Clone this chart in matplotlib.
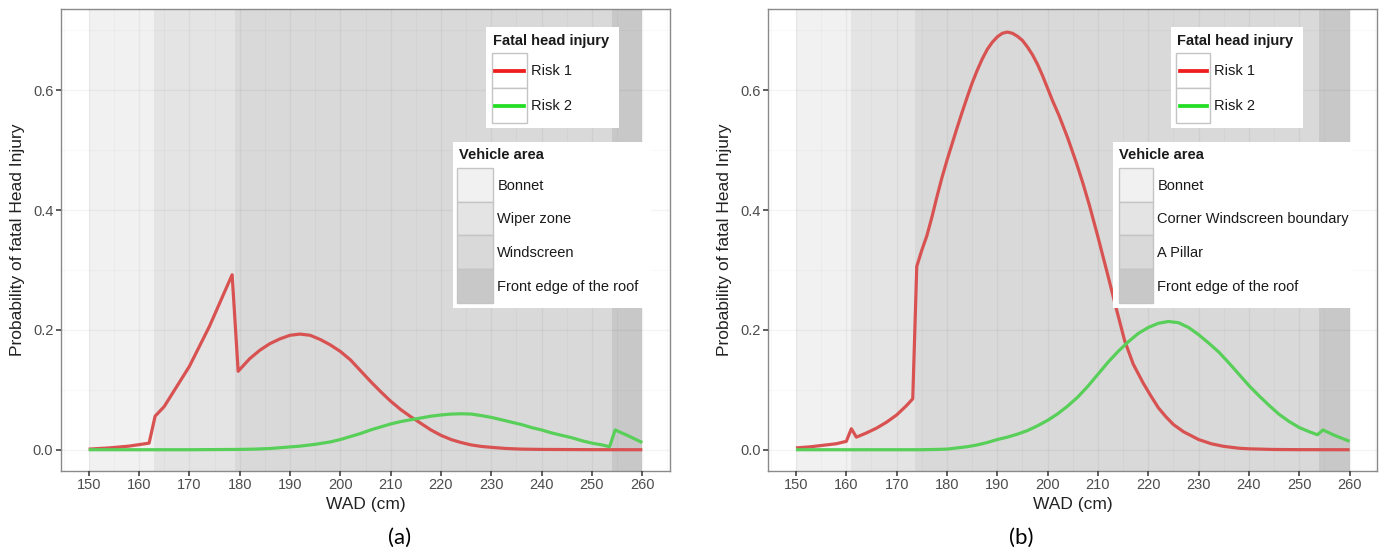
import matplotlib
matplotlib.use("Agg")
import matplotlib.pyplot as plt
from matplotlib.patches import Rectangle
from matplotlib.lines import Line2D
import numpy as np

# ---------------- data ----------------
panel_tags = ["(a)", "(b)"]

# vehicle area bands (WAD cm)
areas_a = ["Bonnet", "Wiper zone", "Windscreen", "Front edge of the roof"]
edges_a = [150, 163, 179, 254, 260]
areas_b = ["Bonnet", "Corner Windscreen boundary", "A Pillar", "Front edge of the roof"]
edges_b = [150, 161, 173.7, 254, 260]
area_colors = ["#f1f1f1", "#e4e4e4", "#d9d9d9", "#c8c8c8"]

series_names = ["Risk 1", "Risk 2"]

# panel (a)
a_r1_x = [150, 154, 158, 162, 163.2, 165, 170, 174, 178.5, 179.7, 182, 184, 186, 188,
          190, 192, 194, 196, 198, 200, 202, 204, 206, 208, 210, 212, 214, 216, 218,
          220, 222, 224, 226, 228, 230, 233, 236, 240, 250, 260]
a_r1_y = [0.001, 0.003, 0.006, 0.011, 0.056, 0.072, 0.139, 0.206, 0.292, 0.131, 0.152,
          0.166, 0.177, 0.185, 0.191, 0.193, 0.191, 0.184, 0.175, 0.164, 0.150, 0.132,
          0.114, 0.097, 0.081, 0.067, 0.055, 0.044, 0.033, 0.024, 0.017, 0.012, 0.008,
          0.0055, 0.004, 0.002, 0.001, 0.0005, 0.0001, 0.0]
a_r2_x = [150, 170, 180, 183, 186, 189, 192, 195, 198, 200, 202, 204, 206, 208, 210,
          212, 214, 216, 218, 220, 222, 224, 226, 228, 230, 232, 234, 236, 238, 240,
          242, 244, 246, 248, 250, 252, 253.5, 254.6, 257, 260]
a_r2_y = [0.0, 0.0, 0.0005, 0.001, 0.002, 0.004, 0.006, 0.009, 0.013, 0.017, 0.022,
          0.027, 0.033, 0.038, 0.043, 0.047, 0.050, 0.053, 0.056, 0.058, 0.0595, 0.060,
          0.0595, 0.057, 0.054, 0.050, 0.046, 0.042, 0.037, 0.033, 0.028, 0.024, 0.020,
          0.015, 0.011, 0.008, 0.005, 0.033, 0.024, 0.012]

# panel (b)
b_r1_x = [150, 153, 156, 158, 160, 161, 162, 164, 166, 168, 170, 172, 173.2, 174, 175,
          176, 177, 178, 179, 180, 181, 182, 183, 184, 185, 186, 187, 188, 189, 190, 191,
          192, 193, 194, 195, 196, 197, 198, 199, 200, 201, 202.3, 204, 205.7, 207,
          208.3, 210, 212, 213.5, 215.3, 217, 219, 220.5, 222, 223.5, 225, 227, 230,
          232.5, 235, 238, 240, 245, 250, 260]
b_r1_y = [0.003, 0.005, 0.008, 0.010, 0.014, 0.035, 0.021, 0.028, 0.036, 0.046, 0.058,
          0.074, 0.085, 0.306, 0.333, 0.357, 0.388, 0.422, 0.454, 0.483, 0.510, 0.537,
          0.563, 0.588, 0.612, 0.633, 0.652, 0.668, 0.680, 0.689, 0.695, 0.697, 0.695,
          0.690, 0.683, 0.672, 0.659, 0.643, 0.624, 0.603, 0.582, 0.557, 0.520, 0.479,
          0.445, 0.408, 0.355, 0.290, 0.240, 0.182, 0.143, 0.111, 0.090, 0.070, 0.055,
          0.042, 0.030, 0.017, 0.010, 0.0056, 0.0025, 0.0015, 0.0004, 0.0001, 0.0]
b_r2_x = [150, 175, 178, 180, 182, 184, 186, 188, 190, 192, 194, 196, 198, 200, 202,
          204, 206, 208, 210, 212, 214, 216, 218, 220, 222, 224, 226, 228, 230, 232,
          234, 236, 238, 240, 242, 244, 246, 248, 250, 252, 253.6, 254.7, 257, 260]
b_r2_y = [0.0, 0.0, 0.0005, 0.001, 0.003, 0.005, 0.008, 0.012, 0.017, 0.021, 0.026,
          0.032, 0.040, 0.049, 0.060, 0.073, 0.088, 0.106, 0.126, 0.146, 0.164, 0.180,
          0.194, 0.204, 0.211, 0.214, 0.212, 0.204, 0.192, 0.178, 0.163, 0.145, 0.126,
          0.107, 0.090, 0.074, 0.059, 0.047, 0.037, 0.030, 0.025, 0.033, 0.024, 0.014]

x_ticks = list(range(150, 261, 10))
y_ticks = [0.0, 0.2, 0.4, 0.6]
y_tick_labels = ["0.0", "0.2", "0.4", "0.6"]

# ---------------- figure ----------------
W, H = 1384, 552
plt.rcParams["font.family"] = ["Liberation Sans", "DejaVu Sans"]
fig = plt.figure(figsize=(W / 100, H / 100), dpi=100)
fig.patch.set_facecolor("white")

def fx(x):
    return x / W

def fy(y):
    return 1 - y / H

RED_LINE = "#d85252"
GREEN_LINE = "#58cf58"
RED_KEY = "#ee1c1c"
GREEN_KEY = "#22dd22"

def make_axes(left_px, edges, r1x, r1y, r2x, r2y):
    ax = fig.add_axes([fx(left_px), fy(470.7), 609 / W, 461.4 / H])
    ax.set_xlim(144.5, 265.5)
    ax.set_ylim(-0.035, 0.735)
    for i in range(4):
        ax.axvspan(edges[i], edges[i + 1], color=area_colors[i], lw=0, zorder=1)
    ax.set_axisbelow(False)
    ax.set_xticks(x_ticks)
    ax.set_xticks(np.arange(145, 266, 10), minor=True)
    ax.set_yticks(y_ticks)
    ax.set_yticklabels(y_tick_labels)
    ax.set_yticks([0.1, 0.3, 0.5, 0.7], minor=True)
    ax.grid(which="major", color="black", alpha=0.045, lw=1.0, zorder=1.5)
    ax.grid(which="minor", color="black", alpha=0.022, lw=0.8, zorder=1.5)
    ax.plot(r1x, r1y, color=RED_LINE, lw=2.3, zorder=3, solid_joinstyle="round",
            solid_capstyle="butt")
    ax.plot(r2x, r2y, color=GREEN_LINE, lw=2.3, zorder=3, solid_joinstyle="round",
            solid_capstyle="butt")
    for s in ax.spines.values():
        s.set_color("#8a8a8a")
        s.set_linewidth(1.0)
    ax.tick_params(which="major", direction="out", length=3.5, width=1.1, color="#333333",
                   labelsize=10.5, labelcolor="#4d4d4d", pad=2)
    ax.tick_params(which="minor", length=0)
    ax.set_xlabel("WAD (cm)", fontsize=12.5, color="#222222", labelpad=3)
    ax.set_ylabel("Probability of fatal Head Injury", fontsize=12.5, color="#222222", labelpad=6)
    return ax

ax1 = make_axes(61, edges_a, a_r1_x, a_r1_y, a_r2_x, a_r2_y)
ax2 = make_axes(768.3, edges_b, b_r1_x, b_r1_y, b_r2_x, b_r2_y)

def rect(x0, y0, x1, y1, **kw):
    fig.add_artist(Rectangle((fx(x0), fy(y1)), (x1 - x0) / W, (y1 - y0) / H,
                             transform=fig.transFigure, zorder=5, **kw))

def text(x, y, s, **kw):
    fig.text(fx(x), fy(y), s, va="center", ha="left", zorder=6, fontsize=10.5,
             color="#1a1a1a", **kw)

def legends(l1_box, l1_title_x, l1_key, l1_lab_x, l2_box, l2_title_x, l2_key, l2_lab_x, labels):
    # legend 1
    rect(l1_box[0], 27.3, l1_box[1], 128.3, facecolor="white", edgecolor="none")
    text(l1_title_x, 40.7, "Fatal head injury", fontweight="bold")
    key_y = [53.3, 88.3, 122.7]
    cols = [RED_KEY, GREEN_KEY]
    for i in range(2):
        rect(l1_key[0], key_y[i], l1_key[1], key_y[i + 1], facecolor="white",
             edgecolor="#c4c4c4", lw=1.0)
        yc = (key_y[i] + key_y[i + 1]) / 2
        fig.add_artist(Line2D([fx(l1_key[0] + 3.5), fx(l1_key[1] - 3.5)], [fy(yc), fy(yc)],
                              transform=fig.transFigure, color=cols[i], lw=2.7, zorder=6))
        text(l1_lab_x, yc, series_names[i])
    # legend 2
    rect(l2_box[0], 141.7, l2_box[1], 308.3, facecolor="white", edgecolor="none")
    text(l2_title_x, 155, "Vehicle area", fontweight="bold")
    ky = [168.3, 201.8, 235.2, 268.8, 302.5]
    for i in range(4):
        rect(l2_key[0], ky[i], l2_key[1], ky[i + 1], facecolor=area_colors[i],
             edgecolor="#c4c4c4", lw=1.0)
        text(l2_lab_x, (ky[i] + ky[i + 1]) / 2 + 1, labels[i])

legends((485.7, 619), 493, (491.7, 527.3), 530.7,
        (453.3, 651), 459, (457.3, 493.3), 497.3, areas_a)
legends((1171, 1303.3), 1177.3, (1176, 1210), 1214.3,
        (1113.3, 1352), 1119.3, (1119, 1153.3), 1157.3, areas_b)

fig.text(fx(400), fy(538), panel_tags[0], ha="center", va="center", fontsize=16,
         family=["Lato", "DejaVu Sans"], color="black")
fig.text(fx(1021), fy(538), panel_tags[1], ha="center", va="center", fontsize=16,
         family=["Lato", "DejaVu Sans"], color="black")

fig.savefig("out.png", dpi=100, facecolor="white")
